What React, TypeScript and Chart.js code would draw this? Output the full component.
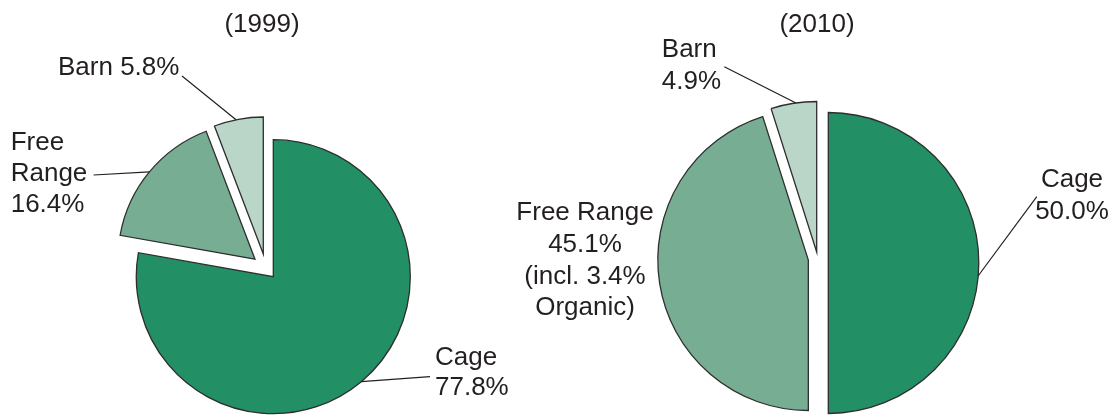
import React, { useEffect, useRef } from 'react';
import { Chart, registerables } from 'chart.js';

Chart.register(...registerables);

// ---- data ----
const categories = ['Cage', 'Free Range', 'Barn'];
const values1999 = [77.8, 16.4, 5.8];
const values2010 = [50.0, 45.1, 4.9];
const years = ['(1999)', '(2010)'];
const organicShare2010 = 3.4;

const pct = (v: number) => `${v.toFixed(1)}%`;

const labels1999 = [
  ['Cage', pct(values1999[0])],
  ['Free', 'Range', pct(values1999[1])],
  [`Barn ${pct(values1999[2])}`],
];
const labels2010 = [
  ['Cage', pct(values2010[0])],
  ['Free Range', pct(values2010[1]), `(incl. ${pct(organicShare2010)}`, 'Organic)'],
  ['Barn', pct(values2010[2])],
];

// ---- style ----
const sliceColors = ['#228f65', '#77ae93', '#b9d6c9'];
const borderColor = '#2e2e2e';
const textColor = '#231f20';
const FONT = "26px 'Liberation Sans', Arial, Helvetica, sans-serif";

type Explode = { d: number; a: number } | null;

function explodeVec(e: Explode) {
  if (!e) return { dx: 0, dy: 0 };
  const r = (e.a * Math.PI) / 180;
  return { dx: e.d * Math.sin(r), dy: -e.d * Math.cos(r) };
}

const explodePlugin = {
  id: 'explode',
  beforeDatasetDraw(chart: any, args: any, opts: any) {
    const ctx = chart.ctx;
    const list: Explode[] = opts.slices || [];
    args.meta.data.forEach((arc: any, i: number) => {
      const { dx, dy } = explodeVec(list[i] || null);
      ctx.save();
      ctx.translate(dx, dy);
      arc.draw(ctx);
      ctx.restore();
    });
    return false;
  },
};

const annotPlugin = {
  id: 'annot',
  afterDraw(chart: any, _args: any, opts: any) {
    const ctx = chart.ctx;
    const meta = chart.getDatasetMeta(0);
    const ex: Explode[] = (chart.options.plugins.explode || {}).slices || [];
    ctx.save();
    ctx.font = FONT;
    ctx.fillStyle = textColor;
    ctx.textBaseline = 'middle';
    ctx.textAlign = 'center';
    ctx.fillText(opts.title.text, opts.title.x, opts.title.y);
    (opts.labels || []).forEach((lb: any) => {
      ctx.textAlign = lb.align;
      lb.lines.forEach((t: string, k: number) => {
        ctx.fillText(t, lb.x, lb.y + k * lb.lineH);
      });
      if (lb.leader) {
        const arc = meta.data[lb.index];
        const { dx, dy } = explodeVec(ex[lb.index] || null);
        const ang = arc.startAngle + lb.leader.frac * (arc.endAngle - arc.startAngle);
        const ex2 = arc.x + dx + Math.cos(ang) * arc.outerRadius;
        const ey2 = arc.y + dy + Math.sin(ang) * arc.outerRadius;
        ctx.beginPath();
        ctx.strokeStyle = textColor;
        ctx.lineWidth = 1.2;
        ctx.moveTo(lb.leader.from[0], lb.leader.from[1]);
        ctx.lineTo(ex2, ey2);
        ctx.stroke();
      }
    });
    ctx.restore();
  },
};

type PieProps = {
  left: number;
  width: number;
  values: number[];
  radius: number;
  padding: { left: number; right: number; top: number; bottom: number };
  explode: Explode[];
  annot: any;
};

function PieChart({ left, width, values, radius, padding, explode, annot }: PieProps) {
  const ref = useRef<HTMLCanvasElement>(null);
  useEffect(() => {
    const chart = new Chart(ref.current as HTMLCanvasElement, {
      type: 'pie',
      data: {
        labels: categories,
        datasets: [
          {
            data: values,
            backgroundColor: sliceColors,
            borderColor,
            borderWidth: 1.3,
            borderJoinStyle: 'miter',
            radius,
          } as any,
        ],
      },
      options: {
        animation: false,
        responsive: true,
        maintainAspectRatio: false,
        events: [],
        radius,
        layout: { padding },
        plugins: {
          legend: { display: false },
          tooltip: { enabled: false },
          explode: { slices: explode },
          annot,
        } as any,
      } as any,
      plugins: [explodePlugin, annotPlugin],
    });
    return () => chart.destroy();
  }, []);
  return (
    <div style={{ position: 'absolute', left, top: 0, width, height: 416 }}>
      <canvas ref={ref} />
    </div>
  );
}

export default function App() {
  return (
    <div
      style={{
        position: 'absolute',
        left: 0,
        top: 0,
        width: 1120,
        height: 416,
        background: '#ffffff',
        overflow: 'hidden',
      }}
    >
      <PieChart
        left={0}
        width={560}
        values={values1999}
        radius={137}
        padding={{ left: 0, right: 13.4, top: 137.4, bottom: 0 }}
        explode={[null, { d: 25.3, a: 313.6 }, { d: 24.8, a: 336.2 }]}
        annot={{
          title: { text: years[0], x: 262, y: 25 },
          labels: [
            { index: 0, lines: labels1999[0], x: 435, y: 358.3, lineH: 30, align: 'left', leader: { from: [430, 376.7], frac: 0.5 } },
            { index: 1, lines: labels1999[1], x: 10.7, y: 143.3, lineH: 31, align: 'left', leader: { from: [93.6, 175], frac: 0.5 } },
            { index: 2, lines: labels1999[2], x: 58, y: 68, lineH: 30, align: 'left', leader: { from: [182, 76], frac: 0.45 } },
          ],
        }}
      />
      <PieChart
        left={440}
        width={680}
        values={values2010}
        radius={150.5}
        padding={{ left: 96.6, right: 0, top: 110, bottom: 0 }}
        explode={[null, { d: 20.2, a: 278.5 }, { d: 16, a: 313.5 }]}
        annot={{
          title: { text: years[1], x: 377, y: 25 },
          labels: [
            { index: 0, lines: labels2010[0], x: 632, y: 180, lineH: 31.7, align: 'center', leader: { from: [596.8, 196.7], frac: 0.527 } },
            { index: 1, lines: labels2010[1], x: 145, y: 213, lineH: 31.7, align: 'center' },
            { index: 2, lines: labels2010[2], x: 221.8, y: 50, lineH: 31.7, align: 'left', leader: { from: [284.3, 66.7], frac: 0.55 } },
          ],
        }}
      />
    </div>
  );
}
